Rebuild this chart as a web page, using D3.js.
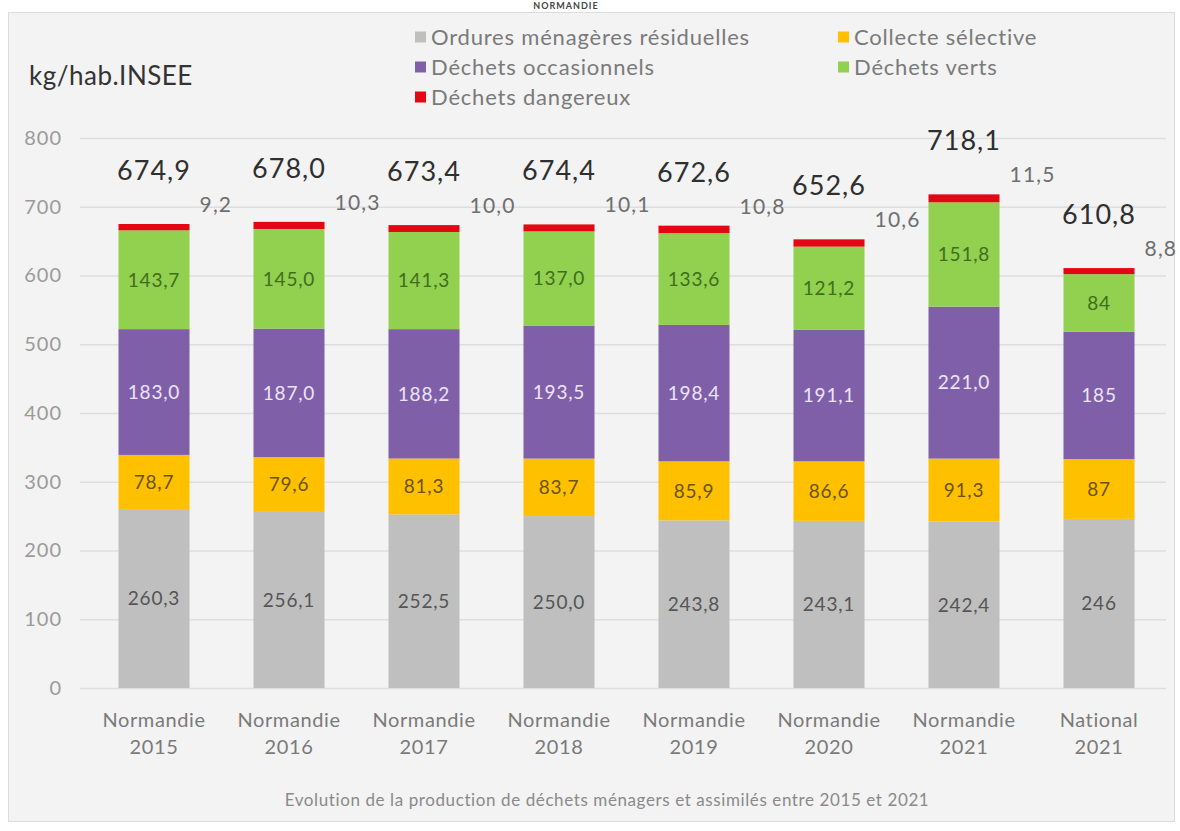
<!DOCTYPE html>
<html>
<head>
<meta charset="utf-8">
<script src="https://cdn.jsdelivr.net/npm/d3@7"></script>
<style>
  html, body { margin: 0; padding: 0; background: #ffffff; }
  svg { display: block; font-family: Lato, "Open Sans", sans-serif; }
</style>
</head>
<body>
<svg id="chart" width="1180" height="831"></svg>
<script>
// ---- data ----
const categories = ["Normandie 2015", "Normandie 2016", "Normandie 2017", "Normandie 2018",
                    "Normandie 2019", "Normandie 2020", "Normandie 2021", "National 2021"];
const seriesNames = ["Ordures ménagères résiduelles", "Collecte sélective", "Déchets occasionnels",
                     "Déchets verts", "Déchets dangereux"];
const ordures      = [260.3, 256.1, 252.5, 250.0, 243.8, 243.1, 242.4, 246];
const collecte     = [78.7, 79.6, 81.3, 83.7, 85.9, 86.6, 91.3, 87];
const occasionnels = [183.0, 187.0, 188.2, 193.5, 198.4, 191.1, 221.0, 185];
const verts        = [143.7, 145.0, 141.3, 137.0, 133.6, 121.2, 151.8, 84];
const dangereux    = [9.2, 10.3, 10.0, 10.1, 10.8, 10.6, 11.5, 8.8];
const totals       = [674.9, 678.0, 673.4, 674.4, 672.6, 652.6, 718.1, 610.8];
const decimalsShown = [1, 1, 1, 1, 1, 1, 1, 0]; // national values shown without decimals
const yTicks = [0, 100, 200, 300, 400, 500, 600, 700, 800];

// ---- styling ----
const colors = ["#bfbfbf", "#ffc000", "#7f60a8", "#92d050", "#e30613"];
const labelColors = ["#555555", "#6b5300", "#ece4f7", "#3f6e1c", null];

const svg = d3.select("#chart");

// panel
svg.append("rect").attr("x", 8.5).attr("y", 12.5).attr("width", 1166).attr("height", 809)
  .attr("fill", "#f3f3f3").attr("stroke", "#dcdcdc");

// small header text above panel
svg.append("text").attr("x", 566).attr("y", 9).attr("text-anchor", "middle")
  .attr("font-size", 9).attr("font-weight", 700).attr("letter-spacing", 1)
  .attr("fill", "#444").text("NORMANDIE");

const x = d3.scaleBand().domain(categories).range([86.5, 1166.5])
  .paddingInner(0.474).paddingOuter(0.237);
const y = d3.scaleLinear().domain([0, 800]).range([688, 138]);

// gridlines
svg.append("g").selectAll("line").data(yTicks).join("line")
  .attr("x1", 80).attr("x2", 1166)
  .attr("y1", d => y(d) + 0.5).attr("y2", d => y(d) + 0.5)
  .attr("stroke", "#dedede").attr("stroke-width", 1.5);

// y axis labels
const yAxis = d3.axisLeft(y).tickValues(yTicks).tickSize(0).tickPadding(0);
const gy = svg.append("g").attr("transform", "translate(62,0)").call(yAxis);
gy.select(".domain").remove();
gy.selectAll("text").attr("font-size", 20).attr("fill", "#9a9a9a")
  .attr("letter-spacing", 1).attr("font-family", "Lato, sans-serif");

// x axis labels
const gx = svg.append("g");
categories.forEach(c => {
  const parts = c.split(" ");
  const t = gx.append("text").attr("text-anchor", "middle")
    .attr("font-size", 20).attr("letter-spacing", 0.6).attr("fill", "#7a7a7a");
  t.append("tspan").attr("x", x(c) + x.bandwidth() / 2).attr("y", 727).text(parts[0]);
  t.append("tspan").attr("x", x(c) + x.bandwidth() / 2).attr("y", 754).text(parts[1]);
});

// stacked data
const seriesArrays = [ordures, collecte, occasionnels, verts, dangereux];
const table = categories.map((c, i) => {
  const o = { cat: c, idx: i };
  seriesNames.forEach((s, k) => { o[s] = seriesArrays[k][i]; });
  return o;
});
const stack = d3.stack().keys(seriesNames)(table);

const fmt = (v, dec) => d3.format("." + dec + "f")(v).replace(".", ",");

stack.forEach((layer, k) => {
  const g = svg.append("g");
  g.selectAll("rect").data(layer).join("rect")
    .attr("x", d => x(d.data.cat))
    .attr("width", x.bandwidth())
    .attr("y", d => y(d[1]))
    .attr("height", d => y(d[0]) - y(d[1]))
    .attr("fill", colors[k]);
  if (labelColors[k]) {
    g.selectAll("text").data(layer).join("text")
      .attr("x", d => x(d.data.cat) + x.bandwidth() / 2)
      .attr("y", d => (y(d[0]) + y(d[1])) / 2)
      .attr("dy", "0.36em")
      .attr("text-anchor", "middle")
      .attr("font-size", 19).attr("letter-spacing", 0.8)
      .attr("fill", labelColors[k])
      .text(d => fmt(d[1] - d[0], decimalsShown[d.data.idx]));
  }
});

// dangerous-waste labels (right of bar top)
svg.append("g").selectAll("text").data(categories).join("text")
  .attr("x", c => x(c) + x.bandwidth() + 10)
  .attr("y", (c, i) => y(totals[i]) - 12)
  .attr("font-size", 21).attr("letter-spacing", 1.2).attr("fill", "#6e6e6e")
  .text((c, i) => fmt(dangereux[i], 1));

// totals
svg.append("g").selectAll("text").data(categories).join("text")
  .attr("x", c => x(c) + x.bandwidth() / 2)
  .attr("y", (c, i) => y(totals[i]) - 44)
  .attr("text-anchor", "middle")
  .attr("font-size", 27).attr("letter-spacing", 1).attr("fill", "#2f2f2f")
  .text((c, i) => fmt(totals[i], 1));

// unit label
svg.append("text").attr("x", 29).attr("y", 85)
  .attr("font-size", 26).attr("letter-spacing", 0.5).attr("fill", "#333").text("kg/hab.INSEE");

// legend
const legendPos = [[415, 37], [838, 37], [415, 67], [838, 67], [415, 97]];
const lg = svg.append("g");
seriesNames.forEach((s, k) => {
  const [lx, ly] = legendPos[k];
  lg.append("rect").attr("x", lx).attr("y", ly - 5.5).attr("width", 11).attr("height", 11)
    .attr("fill", colors[k]);
  lg.append("text").attr("x", lx + 16).attr("y", ly).attr("dy", "0.35em")
    .attr("font-size", 22).attr("letter-spacing", 0.8).attr("fill", "#7a7a7a").text(s);
});

// caption
svg.append("text").attr("x", 607).attr("y", 806).attr("text-anchor", "middle")
  .attr("font-size", 17).attr("letter-spacing", 0.6).attr("fill", "#8a8a8a")
  .text("Evolution de la production de déchets ménagers et assimilés entre 2015 et 2021");
</script>
</body>
</html>
